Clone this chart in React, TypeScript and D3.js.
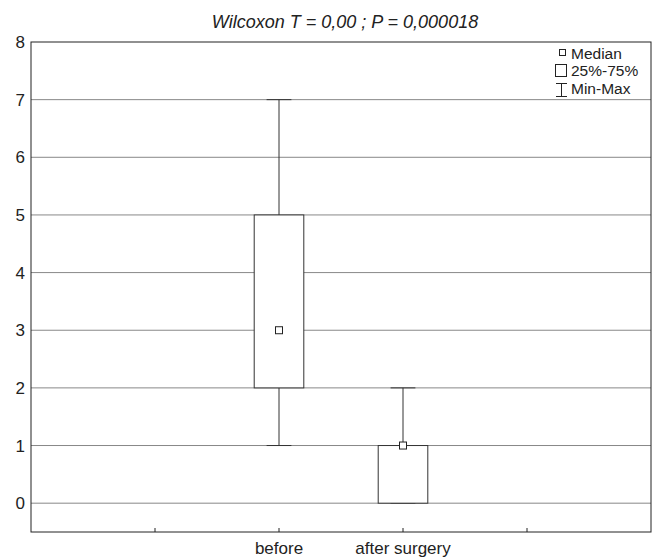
import React from 'react';
import * as d3 from 'd3';

const groups = ['before', 'after surgery'];
const groupPos = [2, 3];
const mins = [1, 0];
const q1s = [2, 0];
const medians = [3, 1];
const q3s = [5, 1];
const maxs = [7, 2];
const yTicks = [0, 1, 2, 3, 4, 5, 6, 7, 8];
const xTicks = [1, 2, 3, 4];
const title = 'Wilcoxon T = 0,00 ; P = 0,000018';

const width = 652;
const height = 558;
const margin = { top: 42, right: 1, bottom: 26, left: 31 };
const font = 'Liberation Sans, Arial, sans-serif';

const App = () => {
  const x = d3.scaleLinear().domain([0, 5]).range([margin.left, width - margin.right]);
  const y = d3.scaleLinear().domain([-0.5, 8]).range([height - margin.bottom, margin.top]);
  const boxW = x(0.4) - x(0);
  const capW = boxW / 2;

  return (
    <svg width={width} height={height} style={{ position: 'absolute', left: 0, top: 0, background: '#fff' }}>
      <text x={345} y={28} textAnchor="middle" fontFamily={font} fontStyle="italic" fontSize={18} fill="#222">
        {title}
      </text>
      {/* grid */}
      {yTicks.filter(t => t < 8).map(t => (
        <line key={t} x1={x(0)} x2={x(5)} y1={y(t)} y2={y(t)} stroke="#888" strokeWidth={1} />
      ))}
      {/* y labels */}
      {yTicks.map(t => (
        <text key={t} x={x(0) - 6} y={y(t) + 6} textAnchor="end" fontFamily={font} fontSize={17} fill="#222">
          {t}
        </text>
      ))}
      {/* x ticks */}
      {xTicks.map(t => (
        <line key={t} x1={x(t)} x2={x(t)} y1={y(-0.5)} y2={y(-0.5) - 4} stroke="#222" />
      ))}
      {groups.map((g, i) => {
        const cx = x(groupPos[i]);
        return (
          <g key={g}>
            <line x1={cx} x2={cx} y1={y(q3s[i])} y2={y(maxs[i])} stroke="#333" />
            <line x1={cx} x2={cx} y1={y(q1s[i])} y2={y(mins[i])} stroke="#333" />
            <line x1={cx - capW / 2} x2={cx + capW / 2} y1={y(maxs[i])} y2={y(maxs[i])} stroke="#333" />
            <line x1={cx - capW / 2} x2={cx + capW / 2} y1={y(mins[i])} y2={y(mins[i])} stroke="#333" />
            <rect x={cx - boxW / 2} y={y(q3s[i])} width={boxW} height={y(q1s[i]) - y(q3s[i])} fill="#fff" stroke="#333" />
            <rect x={cx - 3.5} y={y(medians[i]) - 3.5} width={7} height={7} fill="#fff" stroke="#222" />
            <text x={cx} y={height - 4} textAnchor="middle" fontFamily={font} fontSize={17} fill="#222">
              {g}
            </text>
          </g>
        );
      })}
      {/* frame */}
      <rect x={x(0)} y={y(8)} width={x(5) - x(0)} height={y(-0.5) - y(8)} fill="none" stroke="#222" />
      {/* legend */}
      <g fontFamily={font} fontSize={15.5} fill="#222">
        <rect x={559.5} y={49.5} width={6} height={6} fill="#fff" stroke="#222" />
        <text x={571} y={59}>Median</text>
        <rect x={555.5} y={64.5} width={11} height={12} fill="#fff" stroke="#222" />
        <text x={571} y={76}>25%-75%</text>
        <line x1={556} x2={567} y1={83.5} y2={83.5} stroke="#222" />
        <line x1={561.5} x2={561.5} y1={83.5} y2={96.5} stroke="#222" />
        <line x1={556} x2={567} y1={96.5} y2={96.5} stroke="#222" />
        <text x={571} y={93.5}>Min-Max</text>
      </g>
    </svg>
  );
};

export default App;
